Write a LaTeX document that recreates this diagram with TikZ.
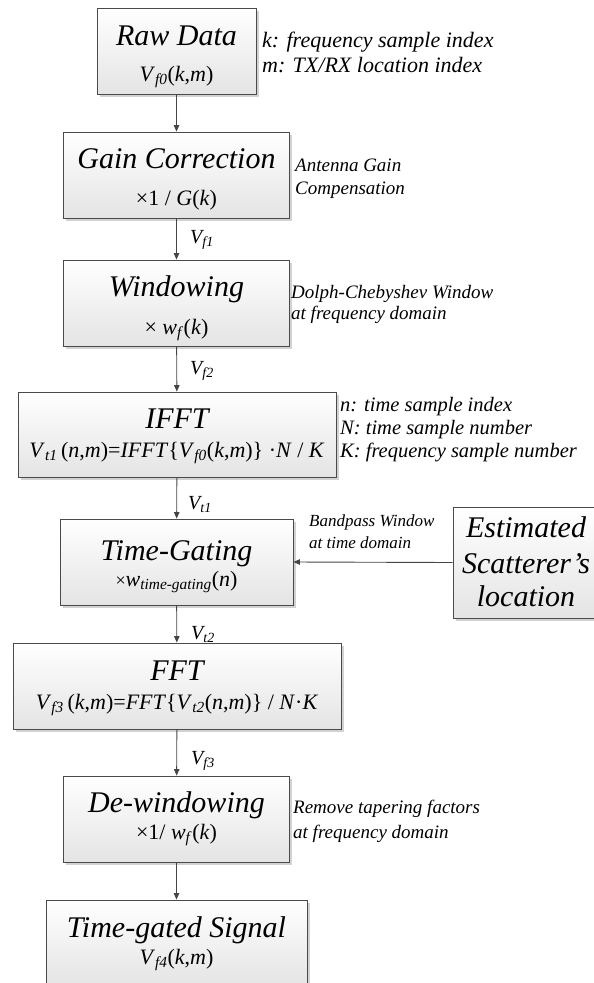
\documentclass[tikz,border=0pt]{standalone}
\usepackage{fontspec}
\setmainfont{Liberation Serif}
\usetikzlibrary{shadows,arrows.meta}
\definecolor{boxline}{HTML}{4A4A4A}
\definecolor{boxbot}{HTML}{E4E4E4}
\definecolor{arrcol}{HTML}{454545}
\newcommand{\iv}[1]{\textit{#1}}
\newcommand{\sbs}[1]{\textsubscript{\textit{#1}}}
\tikzset{
  blk/.style={draw=boxline, line width=0.9pt, top color=white, bottom color=boxbot,
    drop shadow={shadow xshift=2.5pt, shadow yshift=-2.5pt, fill=black!35, opacity=0.5},
    inner sep=0pt, minimum height=86pt},
  ttl/.style={font=\fontsize{30}{36}\selectfont\itshape, inner sep=0pt, anchor=base},
  sbt/.style={font=\fontsize{22}{26}\selectfont, inner sep=0pt, anchor=base},
  note/.style={font=\fontsize{22}{26}\selectfont\itshape, inner sep=0pt, anchor=base west},
  inote/.style={font=\fontsize{20.5}{24}\selectfont\itshape, inner sep=0pt, anchor=base west},
  snote/.style={font=\fontsize{19}{23}\selectfont\itshape, inner sep=0pt, anchor=base west},
  tnote/.style={font=\fontsize{17}{20}\selectfont\itshape, inner sep=0pt, anchor=base west},
  arr/.style={draw=arrcol, line width=0.9pt, -{Triangle[length=6.5pt,width=5.5pt]}},
  lab/.style={font=\fontsize{20}{24}\selectfont\itshape, inner sep=0pt, anchor=base west}
}
\begin{document}
\begin{tikzpicture}[x=1pt,y=-1pt]
\useasboundingbox (0,0) rectangle (594,983);
% boxes
\node[blk, minimum width=159pt] (raw) at (176.5,51) {};
\node[blk, minimum width=226pt] (gain) at (176.5,175) {};
\node[blk, minimum width=226pt] (win) at (176.5,303) {};
\node[blk, minimum width=318pt, minimum height=85pt] (ifft) at (177,434.5) {};
\node[blk, minimum width=233pt] (tg) at (176.5,562) {};
\node[blk, minimum width=146pt, minimum height=111pt] (est) at (526,562.5) {};
\node[blk, minimum width=328pt] (fft) at (177,686) {};
\node[blk, minimum width=226pt] (dewin) at (176.5,819) {};
\node[blk, minimum width=261pt] (out) at (176.5,943) {};
% titles and subtitles
\node[ttl] (rawT) at (176.5,45) {Raw Data};
\node[sbt] (rawS) at (176.5,81) {\iv{V}\sbs{f0}(\iv{k},\iv{m})};
\node[ttl] (gainT) at (176.5,168) {Gain Correction};
\node[sbt] (gainS) at (176.5,205) {×1 / \iv{G}(\iv{k})};
\node[ttl] (winT) at (176.5,296) {Windowing};
\node[sbt] (winS) at (176.5,334) {× \iv{w}\sbs{f}(\iv{k})};
\node[ttl] (ifftT) at (177,428) {IFFT};
\node[sbt] (ifftS) at (177,457) {\iv{V}\sbs{t1}\,(\iv{n},\iv{m})=\iv{IFFT}\{\iv{V}\sbs{f0}(\iv{k},\iv{m})\} ·\iv{N} / \iv{K}};
\node[ttl] (tgT) at (176.5,560) {Time-Gating};
\node[sbt] (tgS) at (176.5,586) {{\fontsize{18}{20}\selectfont×}\iv{w}\sbs{time-gating}(\iv{n})};
\node[ttl] (estA) at (526,537) {Estimated};
\node[ttl] (estB) at (526,573) {Scatterer’s};
\node[ttl] (estC) at (526,606) {location};
\node[ttl] (fftT) at (177,680) {FFT};
\node[sbt] (fftS) at (177,709) {\iv{V}\sbs{f3}\,(\iv{k},\iv{m})=\iv{FFT}\{\iv{V}\sbs{t2}(\iv{n},\iv{m})\} / \iv{N}·\iv{K}};
\node[ttl] (dewinT) at (176.5,812) {De-windowing};
\node[sbt] (dewinS) at (176.5,839) {×1/ \iv{w}\sbs{f}(\iv{k})};
\node[ttl] (outT) at (176.5,937) {Time-gated Signal};
\node[sbt] (outS) at (176.5,964) {\iv{V}\sbs{f4}(\iv{k},\iv{m})};
% side notes
\node[note] (n1a) at (262,47) {k: frequency sample index};
\node[note] (n1b) at (262,72) {m: TX/RX location index};
\node[snote] (n2a) at (295,171) {Antenna Gain};
\node[snote] (n2b) at (295,194) {Compensation};
\node[snote] (n3a) at (291,298) {Dolph-Chebyshev Window};
\node[snote] (n3b) at (291,319) {at frequency domain};
\node[inote] (n4a) at (340,411) {n: time sample index};
\node[inote] (n4b) at (340,434) {N: time sample number};
\node[inote] (n4c) at (340,457) {K: frequency sample number};
\node[tnote] (n5a) at (309,526) {Bandpass Window};
\node[tnote] (n5b) at (309,548) {at time domain};
\node[snote] (n6a) at (293,813) {Remove tapering factors};
\node[snote] (n6b) at (293,838) {at frequency domain};
% connectors
\draw[arr] (raw) -- (gain);
\draw[arr] (gain) -- (win);
\draw[arr] (win) -- (ifft);
\draw[arr] (ifft) -- (tg);
\draw[arr] (tg) -- (fft);
\draw[arr] (fft) -- (dewin);
\draw[arr] (dewin) -- (out);
\draw[arr] (est.west) -- (tg.east);
% arrow labels
\node[lab] (l1) at (190,243) {V\textsubscript{f1}};
\node[lab] (l2) at (190,374) {V\textsubscript{f2}};
\node[lab] (l3) at (188,509) {V\textsubscript{t1}};
\node[lab] (l4) at (191,639) {V\textsubscript{t2}};
\node[lab] (l5) at (191,764) {V\textsubscript{f3}};
\end{tikzpicture}
\end{document}
